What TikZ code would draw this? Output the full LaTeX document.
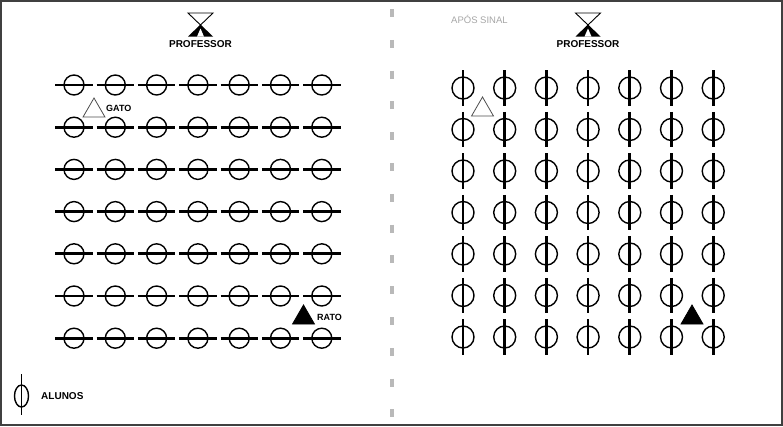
\documentclass[tikz,border=0pt]{standalone}
\usepackage{fontspec}
\setmainfont{Liberation Sans}
\usetikzlibrary{shapes.geometric}

\begin{document}
\begin{tikzpicture}[x=1pt,y=-1pt,
  alunoh/.style={draw,circle,line width=1.4pt,minimum size=20pt,inner sep=0pt},
  alunov/.style={draw,circle,line width=1.4pt,minimum size=22pt,inner sep=0pt},
  barra/.style={line width=2.7pt},
  gato/.style={draw,regular polygon,regular polygon sides=3,minimum size=25.4pt,inner sep=0pt,line width=0.8pt},
  rato/.style={gato,fill=black},
  rotulo/.style={font=\bfseries\fontsize{9}{10}\selectfont,inner sep=0pt,anchor=west}]
\useasboundingbox (0,0) rectangle (783,426);
\draw[line width=2pt,black!75] (1,1) rectangle (782,425);
\draw[line width=3.5pt,gray!55,dash pattern=on 8pt off 22.8pt] (392,9) -- (392,418);
% professor
\foreach \px/\pn in {200.5/pe,588/pd}{
  \draw[line width=0.9pt] (\px-12.5,13) -- (\px+12.5,13) -- (\px,25) -- cycle;
  \fill (\px,24.5) -- (\px-12.5,36.5) -- (\px+12.5,36.5) -- cycle;
  \fill[white] (\px,28.5) -- (\px-3.5,36.6) -- (\px+3.5,36.6) -- cycle;
  \node[rotulo,anchor=center,font=\bfseries\fontsize{10}{12}\selectfont] (\pn) at (\px,44) {PROFESSOR};
}
\node[rotulo,font=\fontsize{9.5}{11}\selectfont,text=gray!70] (sinal) at (451,19) {APÓS SINAL};
% alunos antes
\foreach \i in {0,...,6}
  \foreach \j in {0,...,6}{
    \node[alunoh] (e\i\j) at ({74+41.3*\i},{85+42.2*\j}) {};
    \draw[barra] ([xshift=-8pt]e\i\j.west) -- ([xshift=8pt]e\i\j.east);
  }
% alunos depois
\foreach \i in {0,...,6}
  \foreach \j in {0,...,6}{
    \node[alunov] (d\i\j) at ({463+41.7*\i},{88+41.5*\j}) {};
    \draw[barra] ([yshift=6pt]d\i\j.north) -- ([yshift=-6pt]d\i\j.south);
  }
\node[gato,draw=black!70] (gatoE) at (94,110.7) {};
\node[rotulo] (gatoEt) at (106,108) {GATO};
\node[rato] (ratoE) at (303.5,317.7) {};
\node[rotulo] (ratoEt) at (317,317) {RATO};
\node[gato,draw=black!70] (gatoD) at (482.5,109.7) {};
\node[rato] (ratoD) at (692,317.7) {};
% legenda
\node[draw,ellipse,line width=1.4pt,minimum width=14pt,minimum height=22pt,inner sep=0pt] (leg) at (21.5,396) {};
\draw[barra,line width=1.8pt] ([yshift=10pt]leg.north) -- ([yshift=-7pt]leg.south);
\node[rotulo,font=\bfseries\fontsize{10}{12}\selectfont] (legt) at (41,396) {ALUNOS};
\end{tikzpicture}
\end{document}
